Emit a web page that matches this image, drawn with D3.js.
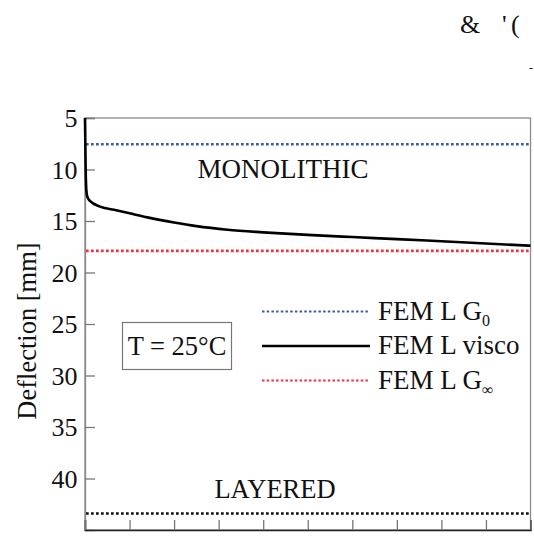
<!DOCTYPE html>
<html><head><meta charset="utf-8">
<script src="https://cdn.jsdelivr.net/npm/d3@7"></script>
<style>body{margin:0;background:#fff}svg{display:block}text{font-family:"Liberation Serif","Times New Roman",serif;fill:#111}</style>
</head><body>
<svg id="c" width="534" height="540"></svg>
<script>
// data
const timeVals = [0, 0.015, 0.03, 0.05, 0.11, 0.34, 0.7, 1.0, 1.4, 2.0, 2.5, 3.2, 4.0, 5.0, 6.0, 7.0, 8.0, 9.0, 10.0];
const viscoDefl = [5.0, 10.0, 12.0, 12.6, 13.05, 13.6, 13.95, 14.25, 14.65, 15.15, 15.5, 15.85, 16.1, 16.35, 16.56, 16.76, 16.97, 17.18, 17.4];
const refNames = ["G0", "Ginf", "layered"];
const refValues = [7.55, 17.9, 43.4];
const refColors = ["#3d5ba9", "#f5303c", "#111"];
const yTicks = [5, 10, 15, 20, 25, 30, 35, 40];
const xTicks = [0, 1, 2, 3, 4, 5, 6, 7, 8, 9, 10];
const legendLabels = [["FEM L G", "0"], ["FEM L visco", ""], ["FEM L G", "∞"]];

const svg = d3.select("#c");
const L = 85, R = 530.5, T = 118, B = 530;
const x = d3.scaleLinear().domain([0, 10]).range([L, R]);
const y = d3.scaleLinear().domain([5, 45]).range([T, B]);

// frame
svg.append("rect").attr("x", L).attr("y", T).attr("width", R - L).attr("height", B - T)
  .attr("fill", "none").attr("stroke", "#8a8a8a").attr("stroke-width", 1.3);

// y axis
const ya = svg.append("g").attr("transform", `translate(${L},0)`)
  .call(d3.axisRight(y).tickValues(yTicks).tickSize(10).tickFormat(""));
ya.select(".domain").attr("stroke", "#8a8a8a").attr("stroke-width", 1.3);
ya.selectAll(".tick line").attr("stroke", "#777").attr("stroke-width", 1.3);
svg.append("g").selectAll("text").data(yTicks).join("text")
  .attr("x", 77.5).attr("y", d => y(d)).attr("dy", "0.36em")
  .attr("text-anchor", "end").attr("font-size", 26).text(d => d);

// x axis
const xa = svg.append("g").attr("transform", `translate(0,${B})`)
  .call(d3.axisTop(x).tickValues(xTicks).tickSize(10).tickFormat(""));
xa.select(".domain").attr("stroke", "#222").attr("stroke-width", 1.6);
xa.selectAll(".tick line").attr("stroke", "#777").attr("stroke-width", 1.3);

// reference lines
svg.append("g").selectAll("line").data(refValues).join("line")
  .attr("x1", L + 1).attr("x2", R).attr("y1", d => y(d)).attr("y2", d => y(d))
  .attr("stroke", (d, i) => refColors[i]).attr("stroke-width", 2.6)
  .attr("stroke-dasharray", "2.7,2.3");

// visco curve
const pts = timeVals.map((t, i) => [t, viscoDefl[i]]);
svg.append("path").datum(pts)
  .attr("d", d3.line().x(d => x(d[0])).y(d => y(d[1])).curve(d3.curveMonotoneX))
  .attr("fill", "none").attr("stroke", "#000").attr("stroke-width", 2.6);

// annotations
svg.append("text").attr("x", 283).attr("y", 177.5).attr("text-anchor", "middle").attr("font-size", 27).text("MONOLITHIC");
svg.append("text").attr("x", 275).attr("y", 498).attr("text-anchor", "middle").attr("font-size", 26.5).text("LAYERED");

svg.append("rect").attr("x", 122.5).attr("y", 322.5).attr("width", 109).attr("height", 47)
  .attr("fill", "none").attr("stroke", "#777").attr("stroke-width", 1.2);
svg.append("text").attr("x", 177).attr("y", 355).attr("text-anchor", "middle").attr("font-size", 26.5).text("T = 25°C");

// legend
const legY = [311.5, 346, 380.5];
const lg = svg.append("g");
legY.forEach((ly, i) => {
  const col = i === 0 ? refColors[0] : i === 1 ? "#000" : refColors[1];
  lg.append("line").attr("x1", 262).attr("x2", 370).attr("y1", ly).attr("y2", ly)
    .attr("stroke", col).attr("stroke-width", i === 1 ? 2.6 : 2.2)
    .attr("stroke-dasharray", i === 1 ? null : "2.5,2.2");
  const t = lg.append("text").attr("x", 378).attr("y", ly + 8).attr("font-size", 27);
  t.append("tspan").text(legendLabels[i][0]);
  if (legendLabels[i][1]) t.append("tspan").attr("font-size", 16).attr("dy", 6).text(legendLabels[i][1]);
});

// y axis title
svg.append("text").attr("transform", "translate(36,331) rotate(-90)")
  .attr("text-anchor", "middle").attr("font-size", 26.5).text("Deflection [mm]");

// stray glyphs at top right
svg.append("text").attr("x", 460).attr("y", 33).attr("font-size", 26).text("&");
svg.append("text").attr("x", 502).attr("y", 33).attr("font-size", 26).text("'");
svg.append("text").attr("x", 511).attr("y", 33).attr("font-size", 26).text("(");
svg.append("text").attr("x", 529).attr("y", 72).attr("font-size", 12).text("-");
</script>
</body></html>
